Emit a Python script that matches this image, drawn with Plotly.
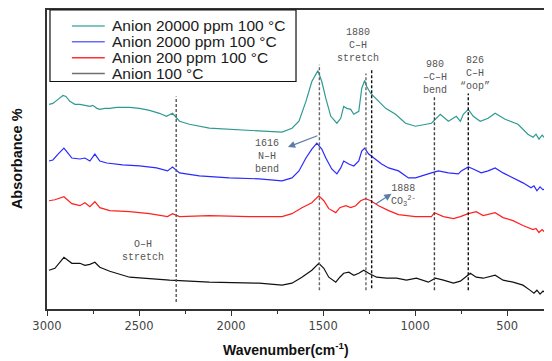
import plotly.graph_objects as go

# ---------------- data ----------------
series_names = ["Anion 20000 ppm 100 °C", "Anion 2000 ppm 100 °C",
                "Anion 200 ppm 100 °C", "Anion 100 °C"]
series_colors = ["#2e9a92", "#2a2aff", "#ff2020", "#111111"]
legend_colors = ["#4fb3ab", "#6a6aff", "#ff3030", "#707070"]

wn_teal = [2989, 2968, 2940, 2913, 2897, 2876, 2848, 2821, 2794, 2767, 2751, 2729, 2713, 2686,
           2659, 2621, 2551, 2497, 2443, 2389, 2351, 2318, 2280, 2226, 2118, 2010, 1902, 1793,
           1723, 1669, 1631, 1593, 1561, 1528, 1507, 1485, 1458, 1425, 1404, 1388, 1371, 1350,
           1333, 1306, 1290, 1274, 1263, 1241, 1214, 1160, 1106, 1052, 998, 911, 863, 819, 776,
           754, 738, 711, 684, 646, 603, 565, 511, 441, 387, 359, 343, 327, 310, 294, 278, 267]
ab_teal = [2.06, 2.07, 2.11, 2.15, 2.14, 2.09, 2.06, 2.06, 2.05, 2.04, 2.05, 2.02, 2.01, 2.02,
           2.02, 2.03, 2.03, 2.02, 2.00, 1.97, 1.94, 1.97, 1.89, 1.86, 1.82, 1.81, 1.80, 1.79,
           1.78, 1.82, 1.89, 2.09, 2.29, 2.40, 2.29, 2.12, 1.94, 1.87, 1.92, 2.04, 2.02, 2.01,
           1.96, 1.99, 2.22, 2.30, 2.24, 2.17, 2.12, 2.02, 1.96, 1.87, 1.84, 1.87, 1.96, 1.89, 1.94,
           1.89, 1.96, 2.01, 1.94, 1.89, 1.92, 1.97, 1.91, 1.86, 1.76, 1.73, 1.76, 1.71, 1.75, 1.72,
           1.74, 1.73]

wn_blue = [2989, 2968, 2940, 2908, 2886, 2865, 2821, 2794, 2767, 2740, 2713, 2675, 2589, 2497,
           2405, 2345, 2318, 2280, 2172, 2010, 1847, 1723, 1669, 1631, 1593, 1561, 1534, 1507,
           1485, 1453, 1425, 1404, 1388, 1360, 1333, 1306, 1290, 1274, 1252, 1225, 1182, 1144,
           1090, 1036, 998, 911, 873, 819, 765, 749, 711, 684, 641, 603, 565, 522, 468, 414, 370,
           354, 338, 321, 305, 289, 267]
ab_blue = [1.49, 1.50, 1.56, 1.62, 1.57, 1.52, 1.51, 1.52, 1.49, 1.56, 1.49, 1.47, 1.45, 1.44,
           1.42, 1.39, 1.43, 1.37, 1.34, 1.32, 1.31, 1.29, 1.32, 1.39, 1.52, 1.61, 1.67, 1.61,
           1.52, 1.41, 1.36, 1.42, 1.49, 1.46, 1.44, 1.49, 1.59, 1.62, 1.56, 1.52, 1.46, 1.42,
           1.39, 1.32, 1.32, 1.37, 1.39, 1.37, 1.36, 1.39, 1.43, 1.41, 1.37, 1.39, 1.42, 1.37,
           1.32, 1.27, 1.22, 1.24, 1.19, 1.23, 1.20, 1.22, 1.22]

wn_red = [2989, 2957, 2908, 2865, 2821, 2794, 2767, 2740, 2713, 2659, 2551, 2443, 2345, 2318,
          2280, 2118, 1902, 1723, 1669, 1615, 1561, 1523, 1496, 1469, 1431, 1409, 1377, 1350,
          1323, 1296, 1269, 1241, 1198, 1144, 1090, 998, 911, 895, 846, 792, 754, 711, 668,
          630, 565, 522, 468, 414, 359, 343, 327, 310, 294, 278, 267]
ab_red = [1.09, 1.10, 1.13, 1.06, 1.04, 1.07, 1.03, 1.08, 1.02, 0.99, 0.98, 0.96, 0.93, 0.96,
          0.93, 0.94, 0.93, 0.93, 0.96, 1.02, 1.07, 1.14, 1.09, 1.01, 0.97, 1.02, 1.04, 1.02,
          1.04, 1.09, 1.11, 1.09, 1.04, 0.99, 0.95, 0.93, 0.93, 0.97, 0.93, 0.91, 0.93, 0.96,
          0.98, 0.94, 0.97, 0.92, 0.89, 0.84, 0.80, 0.81, 0.77, 0.80, 0.77, 0.78, 0.77]

wn_black = [2989, 2957, 2908, 2865, 2821, 2794, 2767, 2740, 2713, 2659, 2551, 2334, 2118, 1847,
            1723, 1669, 1615, 1561, 1523, 1496, 1469, 1431, 1409, 1388, 1360, 1333, 1306, 1279,
            1252, 1209, 1155, 1101, 1047, 993, 928, 890, 846, 792, 754, 727, 700, 668, 630, 565,
            522, 468, 414, 376, 354, 338, 321, 305, 289, 267]
ab_black = [0.39, 0.41, 0.52, 0.46, 0.46, 0.44, 0.45, 0.47, 0.42, 0.38, 0.32, 0.29, 0.27, 0.26,
            0.24, 0.26, 0.32, 0.39, 0.46, 0.41, 0.32, 0.27, 0.32, 0.36, 0.37, 0.34, 0.36, 0.39,
            0.36, 0.32, 0.31, 0.31, 0.29, 0.31, 0.27, 0.31, 0.29, 0.26, 0.28, 0.32, 0.36, 0.32,
            0.31, 0.34, 0.29, 0.27, 0.24, 0.19, 0.16, 0.19, 0.15, 0.18, 0.16, 0.19]

# marker (dashed) lines: wavenumber, top and bottom absorbance, colour
mark_wn = [2298, 1520, 1267, 1236, 895, 711]
mark_top = [2.14, 2.46, 2.37, 2.41, 2.14, 2.17]
mark_bot = [0.07, 0.19, 0.19, 0.21, 0.19, 0.19]
mark_col = ["#555555", "#666666", "#666666", "#111111", "#444444", "#111111"]

# peak labels: text, wavenumber, absorbance
label_text = ["1880<br>C–H<br>stretch", "980<br>–C–H<br>bend", "826<br>C–H<br>“oop”",
              "1616<br>N–H<br>bend", "1888<br>CO<sub>3</sub><sup>2-</sup>", "O–H<br>stretch"]
label_wn = [1312, 890, 673, 1804, 1063, 2481]
label_ab = [2.65, 2.33, 2.37, 1.54, 1.145, 0.58]

# arrows: head (wn, ab), tail (wn, ab)
arrow_head_wn = [1691, 1128]
arrow_head_ab = [1.63, 1.16]
arrow_tail_wn = [1523, 1220]
arrow_tail_ab = [1.75, 1.05]

x_ticks = [3000, 2500, 2000, 1500, 1000, 500]
x_minor = [2750, 2250, 1750, 1250, 750]

# ---------------- figure ----------------
# the page body has an 8 px margin, so the figure is 8 px smaller and
# reference page coordinates are converted with that offset.
OFF = 8
W, H = 552 - OFF, 361 - OFF
PLOT_L, PLOT_R, PLOT_T, PLOT_B = 47, 552, 8, 309   # page pixels of the plot area
ML, MR, MT, MB = PLOT_L - OFF, 0, PLOT_T - OFF, (H + OFF) - PLOT_B
PW, PH = PLOT_R - PLOT_L, PLOT_B - PLOT_T


def px(xp):
    return (xp - PLOT_L) / PW


def py(yp):
    return (PLOT_B - yp) / PH


fig = go.Figure()
all_wn = [wn_teal, wn_blue, wn_red, wn_black]
all_ab = [ab_teal, ab_blue, ab_red, ab_black]
for name, col, wn, ab in zip(series_names, series_colors, all_wn, all_ab):
    fig.add_trace(go.Scatter(x=wn, y=ab, mode="lines", name=name,
                             line=dict(color=col, width=1.2), showlegend=False))

shapes = []
for w, t, b, c in zip(mark_wn, mark_top, mark_bot, mark_col):
    shapes.append(dict(type="line", xref="x", yref="y", x0=w, x1=w, y0=b, y1=t,
                       line=dict(color=c, width=1.4, dash="3px,2px")))

# legend box and samples
shapes.append(dict(type="rect", xref="paper", yref="paper", x0=px(50), x1=px(297),
                   y0=py(80), y1=1, line=dict(color="#111111", width=1.2),
                   fillcolor="white", layer="above"))
leg_y = [24, 40, 56, 72]
annotations = []
for name, col, yy in zip(series_names, legend_colors, leg_y):
    shapes.append(dict(type="line", xref="paper", yref="paper", x0=px(72), x1=px(105),
                       y0=py(yy), y1=py(yy), line=dict(color=col, width=1.5), layer="above"))
    annotations.append(dict(xref="paper", yref="paper", x=px(110), y=py(yy), text=name,
                            showarrow=False, xanchor="left", yanchor="middle",
                            font=dict(family="Liberation Sans", size=15.5, color="#1a1a1a")))

for t, w, a in zip(label_text, label_wn, label_ab):
    annotations.append(dict(xref="x", yref="y", x=w, y=a, text=t, showarrow=False,
                            xanchor="center", yanchor="middle",
                            font=dict(family="Liberation Mono", size=10, color="#555555")))

for hw, ha, tw, ta in zip(arrow_head_wn, arrow_head_ab, arrow_tail_wn, arrow_tail_ab):
    annotations.append(dict(xref="x", yref="y", x=hw, y=ha, ax=tw, ay=ta, axref="x", ayref="y",
                            text="", showarrow=True, arrowhead=2, arrowsize=1.2,
                            arrowwidth=1.2, arrowcolor="#5b7da6"))

annotations.append(dict(xref="paper", yref="paper", x=px(287), y=py(349),
                        text="<b>Wavenumber(cm<sup>-1</sup>)</b>", showarrow=False,
                        xanchor="center", yanchor="middle",
                        font=dict(family="Liberation Sans", size=14, color="#111111")))
annotations.append(dict(xref="paper", yref="paper", x=px(17), y=py(158),
                        text="<b>Absorbance %</b>", showarrow=False, textangle=-90,
                        xanchor="center", yanchor="middle",
                        font=dict(family="Liberation Sans", size=14.5, color="#111111")))

fig.update_layout(
    width=W, height=H, margin=dict(l=ML, r=MR, t=MT, b=MB, pad=0),
    paper_bgcolor="white", plot_bgcolor="white",
    shapes=shapes, annotations=annotations, showlegend=False,
    xaxis=dict(range=[3000, 267], tickvals=x_ticks, ticktext=[str(v) for v in x_ticks],
               ticks="outside", ticklen=5, tickwidth=1.3, tickcolor="#333333",
               minor=dict(tickvals=x_minor, ticks="outside", ticklen=3, tickwidth=1.2,
                          tickcolor="#333333"),
               showline=True, linewidth=1.5, linecolor="#333333", mirror=True,
               showgrid=False, zeroline=False,
               tickfont=dict(family="DejaVu Sans", size=11.5, color="#444444")),
    yaxis=dict(range=[0, PH / 100], showticklabels=False, ticks="", showline=True,
               linewidth=1.5, linecolor="#333333", mirror=True, showgrid=False,
               zeroline=False),
)

fig.write_html("out.html")
